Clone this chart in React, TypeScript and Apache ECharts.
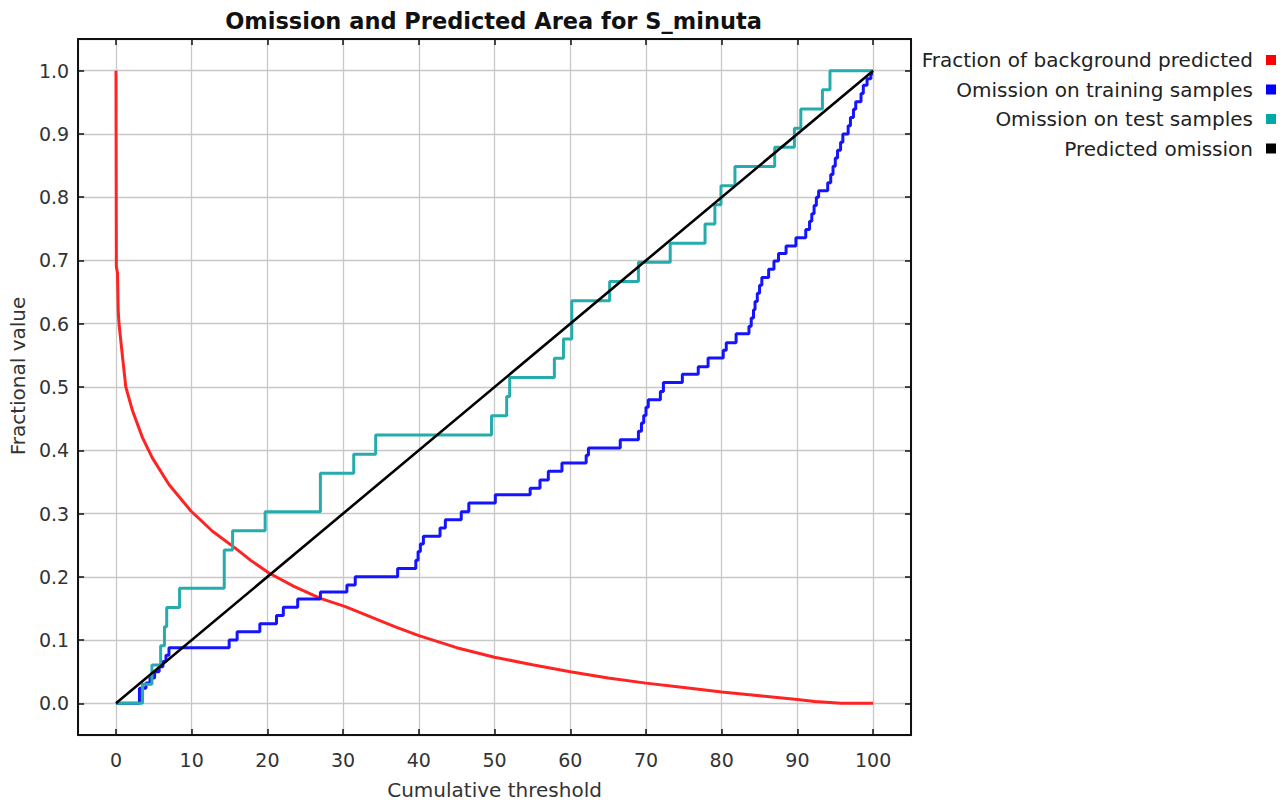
import React, { useEffect, useRef } from "react";
import * as echarts from "echarts";

const TITLE = "Omission and Predicted Area for S_minuta";
const X_NAME = "Cumulative threshold";
const Y_NAME = "Fractional value";

const SERIES_NAMES = [
  "Fraction of background predicted",
  "Omission on training samples",
  "Omission on test samples",
  "Predicted omission",
];
const SERIES_COLORS = ["#ff2424", "#1414ff", "#26acac", "#000000"];
const LEGEND_COLORS = ["#ff0000", "#0000ff", "#00a8a8", "#000000"];

// Fraction of background predicted (red)
const backgroundX = [0, 0.05, 0.2, 0.3, 0.4, 0.88, 1.3, 2.2, 3.5, 4.8, 7.0, 9.9, 12.75, 15.8, 17.8, 20.2, 23.5, 27.0, 30.3, 36.9, 40.0, 45.0, 50.0, 55.0, 60.0, 65.0, 70.0, 75.0, 80.0, 85.0, 90.0, 92.3, 95.8, 100];
const backgroundY = [1.0, 0.69, 0.68, 0.62, 0.6, 0.546, 0.5, 0.462, 0.42, 0.388, 0.346, 0.304, 0.272, 0.245, 0.226, 0.206, 0.185, 0.166, 0.153, 0.121, 0.107, 0.088, 0.073, 0.061, 0.05, 0.04, 0.032, 0.025, 0.018, 0.012, 0.006, 0.003, 0.0, 0.0];

// Omission on training samples (blue), step at each x
const trainX = [0, 3.1, 3.96, 4.5, 5.1, 5.7, 6.2, 6.6, 7.0, 14.95, 16.0, 19.0, 21.2, 22.1, 24.0, 27.0, 30.5, 31.6, 37.2, 39.6, 39.9, 40.2, 40.6, 42.8, 43.5, 45.6, 46.6, 50.1, 54.7, 56.0, 57.1, 58.9, 62.1, 62.4, 66.6, 69.0, 69.4, 69.7, 70.0, 70.3, 71.9, 72.3, 74.8, 76.9, 78.2, 80.2, 80.6, 81.9, 83.6, 83.9, 84.2, 84.4, 84.7, 85.0, 85.3, 86.2, 86.9, 87.5, 88.5, 89.8, 91.1, 91.6, 91.9, 92.2, 92.5, 92.8, 94.0, 94.4, 94.7, 95.0, 95.3, 95.7, 96.0, 96.7, 97.0, 97.4, 97.7, 98.4, 98.7, 99.2, 99.7, 100];
const trainY = [0, 0.024, 0.032, 0.04, 0.05, 0.058, 0.066, 0.076, 0.088, 0.1, 0.113, 0.126, 0.139, 0.152, 0.165, 0.176, 0.187, 0.2, 0.213, 0.226, 0.24, 0.252, 0.264, 0.277, 0.29, 0.303, 0.3166, 0.3297, 0.34, 0.353, 0.367, 0.38, 0.392, 0.4037, 0.4168, 0.43, 0.443, 0.455, 0.468, 0.48, 0.493, 0.507, 0.52, 0.532, 0.546, 0.558, 0.57, 0.584, 0.596, 0.609, 0.622, 0.635, 0.648, 0.661, 0.673, 0.686, 0.699, 0.711, 0.723, 0.736, 0.749, 0.762, 0.774, 0.787, 0.8, 0.81, 0.823, 0.836, 0.849, 0.862, 0.874, 0.887, 0.9, 0.913, 0.926, 0.939, 0.951, 0.964, 0.977, 0.987, 0.995, 0.995];

// Omission on test samples (cyan), step at each x
const testX = [0, 3.5, 4.75, 5.9, 6.4, 6.7, 8.4, 14.3, 15.4, 19.7, 27.0, 31.4, 34.3, 49.6, 51.6, 52.0, 57.9, 59.1, 60.2, 65.2, 69.0, 73.2, 77.8, 79.1, 79.9, 81.75, 87.0, 89.6, 90.45, 93.3, 94.3, 100];
const testY = [0, 0.0303, 0.0606, 0.0909, 0.1212, 0.1515, 0.1818, 0.2424, 0.2727, 0.303, 0.3636, 0.3939, 0.4242, 0.4545, 0.4848, 0.5152, 0.5455, 0.5758, 0.6364, 0.6667, 0.697, 0.7273, 0.7576, 0.7879, 0.8182, 0.8485, 0.8788, 0.9091, 0.9394, 0.9697, 1.0, 1.0];

// Predicted omission (black)
const predictedX = [0, 100];
const predictedY = [0, 1];

const X_MIN = -5;
const X_MAX = 105;
const Y_MIN = -0.05;
const Y_MAX = 1.05;

const FONT = "DejaVu Sans";

function pairs(xs: number[], ys: number[]) {
  return xs.map((x, i) => [x, ys[i]]);
}

export default function App() {
  const ref = useRef<HTMLDivElement>(null);

  useEffect(() => {
    if (!ref.current) return;
    const chart = echarts.init(ref.current, undefined, { renderer: "svg" });

    const gridLeft = 76;
    const gridTop = 39;
    const gridRight = 374;
    const gridBottom = 68;
    const plotCenterX = gridLeft + (1285 - gridLeft - gridRight) / 2;

    const frameLine = { show: true, onZero: false, lineStyle: { color: "#111", width: 2 } };
    const innerTick = { show: true, inside: true, length: 6, lineStyle: { color: "#111", width: 1.5 } };
    const gridLine = { show: true, lineStyle: { color: "#c8c8c8", width: 1.3 } };

    const lineSeries = (idx: number, data: number[][], step: any, width: number) => ({
      name: SERIES_NAMES[idx],
      type: "line",
      data,
      step,
      showSymbol: false,
      symbol: "none",
      clip: true,
      lineStyle: { color: SERIES_COLORS[idx], width },
      itemStyle: { color: LEGEND_COLORS[idx] },
      emphasis: { disabled: true },
    });

    chart.setOption({
      animation: false,
      backgroundColor: "#ffffff",
      textStyle: { fontFamily: FONT },
      graphic: [
        {
          type: "text",
          x: plotCenterX,
          y: 21,
          style: {
            text: TITLE,
            align: "center",
            verticalAlign: "middle",
            fontFamily: FONT,
            fontWeight: "bold",
            fontSize: 22.5,
            fill: "#111",
          },
        },
      ],
      legend: {
        orient: "vertical",
        align: "right",
        right: 9,
        top: 50,
        padding: 0,
        itemWidth: 10,
        itemHeight: 10,
        itemGap: 9.5,
        selectedMode: false,
        textStyle: { fontFamily: FONT, fontSize: 20, color: "#222", padding: [0, 8, 0, 0] },
        data: SERIES_NAMES.map((n) => ({ name: n, icon: "rect" })),
      },
      grid: { left: gridLeft, top: gridTop, right: gridRight, bottom: gridBottom, containLabel: false },
      xAxis: [
        {
          type: "value",
          position: "bottom",
          min: X_MIN,
          max: X_MAX,
          splitNumber: 11,
          axisLine: frameLine,
          axisTick: innerTick,
          splitLine: gridLine,
          axisLabel: {
            showMinLabel: false,
            showMaxLabel: false,
            margin: 15,
            fontFamily: FONT,
            fontSize: 19,
            color: "#333",
            formatter: (v: number) => String(Math.round(v)),
          },
          name: X_NAME,
          nameLocation: "middle",
          nameGap: 45,
          nameTextStyle: { fontFamily: FONT, fontSize: 20, color: "#333" },
        },
        {
          type: "value",
          position: "top",
          min: X_MIN,
          max: X_MAX,
          splitNumber: 11,
          axisLine: frameLine,
          axisTick: innerTick,
          splitLine: { show: false },
          axisLabel: { show: false },
        },
      ],
      yAxis: [
        {
          type: "value",
          position: "left",
          min: Y_MIN,
          max: Y_MAX,
          splitNumber: 11,
          axisLine: frameLine,
          axisTick: innerTick,
          splitLine: gridLine,
          axisLabel: {
            showMinLabel: false,
            showMaxLabel: false,
            margin: 9,
            fontFamily: FONT,
            fontSize: 19,
            color: "#333",
            formatter: (v: number) => v.toFixed(1),
          },
          name: Y_NAME,
          nameLocation: "middle",
          nameGap: 45,
          nameTextStyle: { fontFamily: FONT, fontSize: 20, color: "#333", padding: [0, 0, 0, 22] },
        },
        {
          type: "value",
          position: "right",
          min: Y_MIN,
          max: Y_MAX,
          splitNumber: 11,
          axisLine: frameLine,
          axisTick: innerTick,
          splitLine: { show: false },
          axisLabel: { show: false },
        },
      ],
      series: [
        lineSeries(0, pairs(backgroundX, backgroundY), false, 3),
        lineSeries(1, pairs(trainX, trainY), "end", 3),
        lineSeries(2, pairs(testX, testY), "end", 3),
        lineSeries(3, pairs(predictedX, predictedY), false, 2.6),
      ],
    });

    return () => chart.dispose();
  }, []);

  return (
    <div
      ref={ref}
      style={{ position: "absolute", left: 0, top: 0, width: 1285, height: 805, background: "#fff" }}
    />
  );
}
